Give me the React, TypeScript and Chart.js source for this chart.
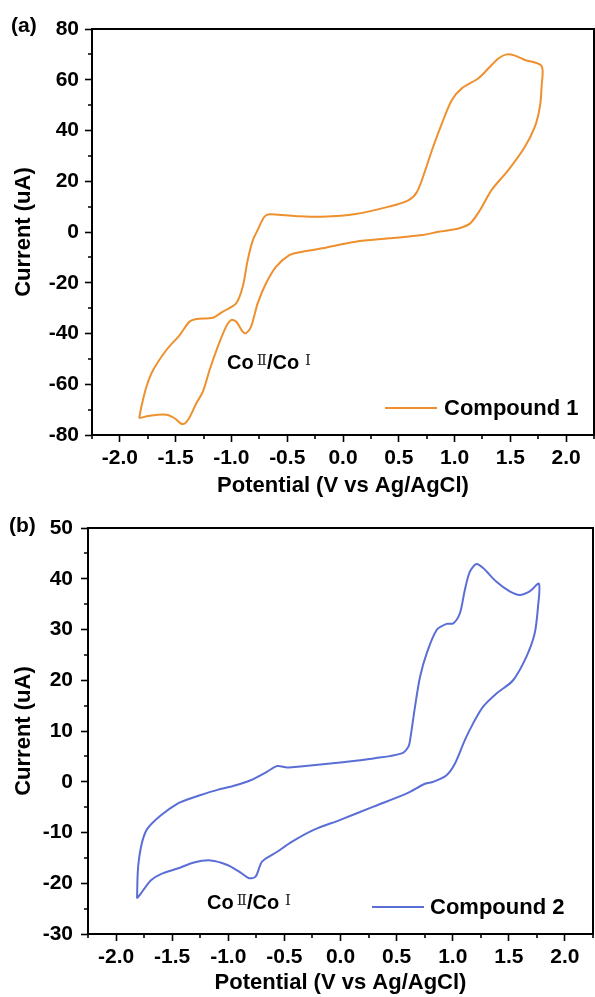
import React, { useEffect, useRef } from 'react';
import { Chart, registerables } from 'chart.js';

Chart.register(...registerables);

// ---------- data ----------
const CP1_X = [
  -1.827, -1.807, -1.762, -1.702, -1.583, -1.464, -1.375, -1.315, -1.167, -1.077, -0.958, -0.899,
  -0.854, -0.81, -0.765, -0.705, -0.661, -0.542, -0.4, -0.185, 0.113, 0.411, 0.589, 0.664, 0.738,
  0.798, 0.887, 0.976, 1.065, 1.214, 1.304, 1.393, 1.467, 1.542, 1.631, 1.78,
  1.78, 1.765, 1.72, 1.631, 1.482, 1.333, 1.229, 1.14, 1.036, 0.857, 0.708, 0.411, 0.113, -0.185,
  -0.393, -0.482, -0.601, -0.69, -0.765, -0.824, -0.869, -0.899, -0.958, -1.003, -1.048, -1.122,
  -1.196, -1.256, -1.315, -1.39, -1.44, -1.509, -1.583, -1.732, -1.827,
];
const CP1_Y = [
  -73.4, -68.8, -61.0, -54.4, -46.5, -40.6, -35.3, -34.3, -33.8, -31.4, -28.1, -21.6,
  -11.0, -3.5, 0.8, 6.0, 7.0, 6.7, 6.2, 6.0, 7.1, 10.0, 12.6, 15.9, 24.4,
  32.3, 42.8, 52.0, 56.6, 60.6, 64.5, 68.4, 70.0, 69.5, 67.8, 65.4,
  57.3, 49.4, 41.5, 33.6, 24.4, 16.6, 8.7, 3.4, 1.4, 0.1, -1.2, -2.5, -3.8, -6.4,
  -8.0, -9.1, -13.7, -20.2, -28.1, -37.3, -39.9, -39.3, -35.3, -34.7, -37.3, -45.2,
  -54.4, -62.9, -67.5, -74.1, -75.7, -73.4, -72.0, -72.4, -73.4,
];

const CP2_X = [
  -1.813, -1.807, -1.793, -1.763, -1.719, -1.6, -1.452, -1.364, -1.245, -1.097, -0.95, -0.801,
  -0.653, -0.564, -0.475, -0.357, -0.002, 0.294, 0.546, 0.605, 0.62, 0.664, 0.709, 0.768, 0.857,
  0.945, 1.004, 1.064, 1.108, 1.153, 1.212, 1.271, 1.39, 1.508, 1.597, 1.686, 1.768,
  1.76, 1.73, 1.656, 1.538, 1.39, 1.271, 1.182, 1.108, 1.02, 0.945, 0.828, 0.753, 0.591, 0.294,
  -0.002, -0.239, -0.446, -0.564, -0.697, -0.757, -0.816, -0.89, -1.008, -1.156, -1.305, -1.452,
  -1.6, -1.689, -1.778, -1.813,
];
const CP2_Y = [
  -23.0, -18.0, -14.8, -11.5, -9.2, -6.6, -4.3, -3.5, -2.6, -1.6, -0.8, 0.3,
  2.0, 3.1, 2.8, 3.0, 3.8, 4.6, 5.6, 6.9, 8.2, 14.8, 20.7, 25.3, 29.9,
  31.1, 31.2, 33.2, 37.8, 41.4, 42.9, 42.1, 39.4, 37.5, 36.8, 37.5, 39.0,
  34.5, 29.2, 24.6, 20.0, 17.4, 14.8, 11.5, 8.2, 3.6, 1.3, 0.0, -0.4, -2.3, -4.9,
  -7.5, -9.5, -12.0, -13.8, -15.7, -18.7, -19.0, -17.9, -16.4, -15.5, -15.9, -17.1,
  -18.2, -19.4, -22.0, -23.0,
];

const X_TICKS = [-2, -1.5, -1, -0.5, 0, 0.5, 1, 1.5, 2];
const X_MINOR = [-2.25, -1.75, -1.25, -0.75, -0.25, 0.25, 0.75, 1.25, 1.75, 2.25];
const Y1_TICKS = [-80, -60, -40, -20, 0, 20, 40, 60, 80];
const Y1_MINOR = [-70, -50, -30, -10, 10, 30, 50, 70];
const Y2_TICKS = [-30, -20, -10, 0, 10, 20, 30, 40, 50];
const Y2_MINOR = [-25, -15, -5, 5, 15, 25, 35, 45];

const X_TITLE = 'Potential (V vs Ag/AgCl)';
const Y_TITLE = 'Current (uA)';
const LABEL_1 = 'Compound 1';
const LABEL_2 = 'Compound 2';

const ORANGE = '#EE902E';
const BLUE = '#5A6ED6';
const SANS = '"Liberation Sans", Arial, sans-serif';
const SERIF = '"DejaVu Serif", "Liberation Serif", serif';

// ---------- plugin: frame + minor ticks ----------
const framePlugin = {
  id: 'cvFrame',
  afterDraw(chart: any, _args: any, opts: any) {
    const { ctx, chartArea: a, scales } = chart;
    ctx.save();
    ctx.strokeStyle = '#000';
    ctx.lineWidth = 2;
    ctx.strokeRect(a.left, a.top, a.right - a.left, a.bottom - a.top);
    ctx.lineWidth = 1.6;
    ctx.beginPath();
    (opts.xMinor || []).forEach((v: number) => {
      const px = Math.round(scales.x.getPixelForValue(v));
      ctx.moveTo(px, a.bottom);
      ctx.lineTo(px, a.bottom + 4);
    });
    (opts.yMinor || []).forEach((v: number) => {
      const py = Math.round(scales.y.getPixelForValue(v));
      ctx.moveTo(a.left, py);
      ctx.lineTo(a.left - 4, py);
    });
    ctx.stroke();
    ctx.restore();
  },
};

type Cfg = {
  xs: number[];
  ys: number[];
  label: string;
  color: string;
  yMin: number;
  yMax: number;
  yTicks: number[];
  yMinor: number[];
  padTop: number;
  padRight: number;
  yWidth: number;
  xHeight: number;
  yTickPad: number;
};

function buildConfig(c: Cfg): any {
  const tickFont = { family: SANS, size: 21, weight: 'bold' as const };
  const titleFont = { family: SANS, size: 22, weight: 'bold' as const };
  const points = c.xs.map((x, i) => ({ x, y: c.ys[i] }));
  return {
    type: 'line',
    data: {
      datasets: [
        {
          label: c.label,
          data: points,
          borderColor: c.color,
          backgroundColor: c.color,
          borderWidth: 2,
          pointRadius: 0,
          tension: 0.3,
          fill: false,
        },
      ],
    },
    options: {
      responsive: false,
      animation: false,
      devicePixelRatio: 1,
      events: [],
      layout: { padding: { top: c.padTop, right: c.padRight, left: 0, bottom: 0 } },
      plugins: {
        legend: { display: false },
        tooltip: { enabled: false },
        cvFrame: { xMinor: X_MINOR, yMinor: c.yMinor },
      },
      scales: {
        x: {
          type: 'linear',
          min: -2.25,
          max: 2.25,
          afterBuildTicks: (s: any) => {
            s.ticks = X_TICKS.map((v) => ({ value: v }));
          },
          afterFit: (s: any) => {
            s.height = c.xHeight;
          },
          ticks: {
            font: tickFont,
            color: '#000',
            padding: 4,
            maxRotation: 0,
            autoSkip: false,
            callback: (v: any) => Number(v).toFixed(1),
          },
          grid: {
            drawOnChartArea: false,
            drawTicks: true,
            tickLength: 7,
            tickWidth: 1.6,
            tickColor: '#000',
          },
          border: { display: true, color: '#000', width: 2 },
          title: {
            display: true,
            text: X_TITLE,
            font: titleFont,
            color: '#000',
            padding: { top: 0, bottom: 1 },
          },
        },
        y: {
          type: 'linear',
          min: c.yMin,
          max: c.yMax,
          afterBuildTicks: (s: any) => {
            s.ticks = c.yTicks.map((v) => ({ value: v }));
          },
          afterFit: (s: any) => {
            s.width = c.yWidth;
          },
          ticks: {
            font: tickFont,
            color: '#000',
            padding: c.yTickPad,
            autoSkip: false,
            callback: (v: any) => String(v),
          },
          grid: {
            drawOnChartArea: false,
            drawTicks: true,
            tickLength: 7,
            tickWidth: 1.6,
            tickColor: '#000',
          },
          border: { display: true, color: '#000', width: 2 },
          title: {
            display: true,
            text: Y_TITLE,
            font: titleFont,
            color: '#000',
            padding: { top: 11, bottom: 0 },
          },
        },
      },
    },
    plugins: [framePlugin],
  };
}

function CvChart(props: { cfg: Cfg; top: number; height: number }) {
  const ref = useRef<HTMLCanvasElement | null>(null);
  useEffect(() => {
    if (!ref.current) return;
    const chart = new Chart(ref.current, buildConfig(props.cfg));
    return () => chart.destroy();
  }, []);
  return (
    <canvas
      ref={ref}
      width={595}
      height={props.height}
      style={{ position: 'absolute', left: 0, top: props.top, width: 595, height: props.height }}
    />
  );
}

function CoLabel(props: { left: number; top: number }) {
  const sup: React.CSSProperties = {
    fontFamily: SERIF,
    fontWeight: 400,
    fontSize: 15,
    position: 'relative',
    top: -4,
    color: '#222',
  };
  return (
    <div
      style={{
        position: 'absolute',
        left: props.left,
        top: props.top,
        fontFamily: SANS,
        fontWeight: 700,
        fontSize: 20,
        lineHeight: '20px',
        whiteSpace: 'nowrap',
        color: '#000',
      }}
    >
      Co<span style={{ ...sup, marginLeft: 3 }}>Ⅱ</span>/Co<span style={{ ...sup, marginLeft: 6 }}>Ⅰ</span>
    </div>
  );
}

function LegendItem(props: { lineLeft: number; lineY: number; textLeft: number; textTop: number; color: string; label: string }) {
  return (
    <>
      <div
        style={{
          position: 'absolute',
          left: props.lineLeft,
          top: props.lineY - 1,
          width: 52,
          height: 2,
          background: props.color,
        }}
      />
      <div
        style={{
          position: 'absolute',
          left: props.textLeft,
          top: props.textTop,
          fontFamily: SANS,
          fontWeight: 700,
          fontSize: 22,
          lineHeight: '22px',
          whiteSpace: 'nowrap',
          color: '#000',
        }}
      >
        {props.label}
      </div>
    </>
  );
}

function PanelLabel(props: { left: number; top: number; text: string }) {
  return (
    <div
      style={{
        position: 'absolute',
        left: props.left,
        top: props.top,
        fontFamily: SANS,
        fontWeight: 700,
        fontSize: 21,
        lineHeight: '21px',
        color: '#000',
      }}
    >
      {props.text}
    </div>
  );
}

const CFG1: Cfg = {
  xs: CP1_X,
  ys: CP1_Y,
  label: LABEL_1,
  color: ORANGE,
  yMin: -80,
  yMax: 80,
  yTicks: Y1_TICKS,
  yMinor: Y1_MINOR,
  padTop: 29,
  padRight: 1,
  yWidth: 92,
  xHeight: 65,
  yTickPad: 6,
};

const CFG2: Cfg = {
  xs: CP2_X,
  ys: CP2_Y,
  label: LABEL_2,
  color: BLUE,
  yMin: -30,
  yMax: 50,
  yTicks: Y2_TICKS,
  yMinor: Y2_MINOR,
  padTop: 28,
  padRight: 2,
  yWidth: 88,
  xHeight: 63,
  yTickPad: 8,
};

export default function App() {
  return (
    <div style={{ position: 'absolute', left: 0, top: 0, width: 595, height: 997, background: '#fff', overflow: 'hidden' }}>
      <CvChart cfg={CFG1} top={0} height={500} />
      <CvChart cfg={CFG2} top={500} height={497} />
      <PanelLabel left={11} top={14} text="(a)" />
      <PanelLabel left={9} top={514} text="(b)" />
      <CoLabel left={227} top={352} />
      <CoLabel left={207} top={892} />
      <LegendItem lineLeft={385} lineY={408} textLeft={444} textTop={397} color={ORANGE} label={LABEL_1} />
      <LegendItem lineLeft={372} lineY={907} textLeft={430} textTop={896} color={BLUE} label={LABEL_2} />
    </div>
  );
}
